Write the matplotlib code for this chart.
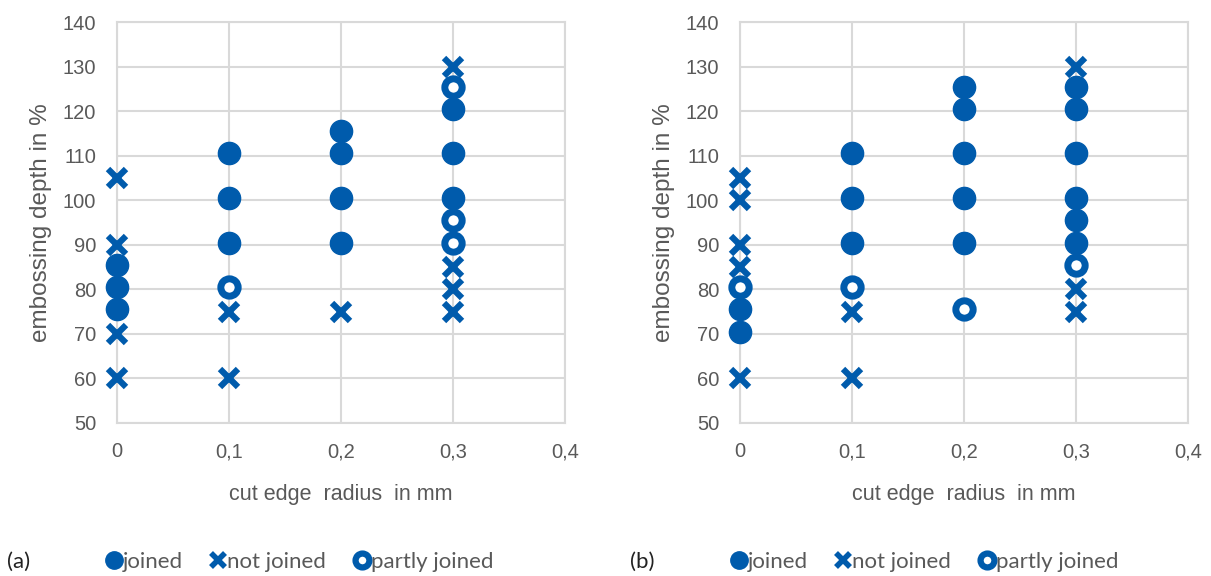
import matplotlib.pyplot as plt
from matplotlib.lines import Line2D
from matplotlib.ticker import FuncFormatter

# panel (a)
a_joined_x = [0, 0, 0, 0.1, 0.1, 0.1, 0.2, 0.2, 0.2, 0.2, 0.3, 0.3, 0.3]
a_joined_y = [85.5, 80.5, 75.5, 110.5, 100.5, 90.5, 115.5, 110.5, 100.5, 90.5, 120.5, 110.5, 100.5]
a_not_x = [0, 0, 0, 0, 0.1, 0.1, 0.2, 0.3, 0.3, 0.3, 0.3]
a_not_y = [105, 90, 70, 60, 75, 60, 75, 130, 85, 80, 75]
a_partly_x = [0.1, 0.3, 0.3, 0.3]
a_partly_y = [80.5, 125.5, 95.5, 90.5]

# panel (b)
b_joined_x = [0, 0, 0.1, 0.1, 0.1, 0.2, 0.2, 0.2, 0.2, 0.2, 0.3, 0.3, 0.3, 0.3, 0.3, 0.3]
b_joined_y = [75.5, 70.5, 110.5, 100.5, 90.5, 125.5, 120.5, 110.5, 100.5, 90.5,
              125.5, 120.5, 110.5, 100.5, 95.5, 90.5]
b_not_x = [0, 0, 0, 0, 0, 0.1, 0.1, 0.3, 0.3, 0.3]
b_not_y = [105, 100, 90, 85, 60, 75, 60, 130, 80, 75]
b_partly_x = [0, 0.1, 0.2, 0.3]
b_partly_y = [80.5, 80.5, 75.5, 85.5]

x_ticks = [0, 0.1, 0.2, 0.3, 0.4]
y_ticks = [50, 60, 70, 80, 90, 100, 110, 120, 130, 140]

blue = '#005BAC'
grid_c = '#D9D9D9'
txt_c = '#595959'
plt.rcParams['font.family'] = 'Liberation Sans'

fig = plt.figure(figsize=(12.11, 5.76), dpi=100)
W, H = 1211, 576
top, bottom = 22, 423
ax_a = fig.add_axes([117 / W, 1 - bottom / H, 448 / W, (bottom - top) / H])
ax_b = fig.add_axes([740 / W, 1 - bottom / H, 448 / W, (bottom - top) / H])


def draw(ax, jx, jy, nx, ny, px, py):
    ax.plot(jx, jy, 'o', color=blue, markersize=16, linestyle='none', zorder=3, clip_on=False)
    ax.plot(nx, ny, 'x', color=blue, markersize=13.5, markeredgewidth=4.5, linestyle='none',
            zorder=3, clip_on=False)
    ax.plot(px, py, 'o', markerfacecolor='white', markeredgecolor=blue, markersize=12.5,
            markeredgewidth=5, linestyle='none', zorder=3, clip_on=False)
    ax.set_xlim(0, 0.4)
    ax.set_ylim(50, 140)
    ax.set_xticks(x_ticks)
    ax.set_yticks(y_ticks)
    ax.xaxis.set_major_formatter(FuncFormatter(lambda v, p: ('%g' % round(v, 1)).replace('.', ',')))
    ax.grid(True, color=grid_c, linewidth=1.5)
    ax.set_axisbelow(True)
    for s in ax.spines.values():
        s.set_color(grid_c)
        s.set_linewidth(1.5)
    ax.tick_params(axis='y', length=0, labelsize=14.5, labelcolor=txt_c, pad=15)
    ax.tick_params(axis='x', length=0, labelsize=14.5, labelcolor=txt_c, pad=14)
    ax.set_xlabel('cut edge  radius  in mm', fontsize=15.5, color=txt_c)
    ax.set_ylabel('embossing depth in %', fontsize=17.5, color=txt_c)
    ax.xaxis.set_label_coords(0.5, -0.152)
    ax.yaxis.set_label_coords(-0.145, 0.5)


draw(ax_a, a_joined_x, a_joined_y, a_not_x, a_not_y, a_partly_x, a_partly_y)
draw(ax_b, b_joined_x, b_joined_y, b_not_x, b_not_y, b_partly_x, b_partly_y)

handles = [
    Line2D([], [], marker='o', color=blue, markersize=12.5, linestyle='none'),
    Line2D([], [], marker='x', color=blue, markersize=10.5, markeredgewidth=4, linestyle='none'),
    Line2D([], [], marker='o', markerfacecolor='white', markeredgecolor=blue, markersize=10,
           markeredgewidth=4.5, linestyle='none'),
]
labels = ['joined', 'not joined', 'partly joined']

for lx, tag, tx in [(105, '(a)', 7), (730, '(b)', 630)]:
    fig.text(tx / W, 1 - 562 / H, tag, fontsize=16, color='#222222', family='Lato', va='center')
    fig.legend(handles, labels, loc='center left', bbox_to_anchor=(lx / W, 1 - 562 / H),
               ncol=3, frameon=False, handlelength=0.8, handletextpad=0.0, columnspacing=1.2,
               borderaxespad=0, borderpad=0, prop={'family': 'Lato', 'size': 16},
               labelcolor=txt_c)

fig.savefig('out.png', dpi=100)
